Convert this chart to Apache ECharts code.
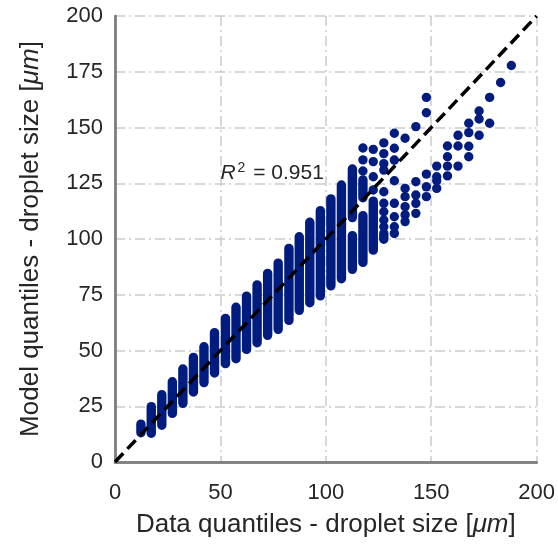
<!DOCTYPE html>
<html>
<head>
<meta charset="utf-8">
<script src="https://cdn.jsdelivr.net/npm/echarts@6/dist/echarts.min.js"></script>
<style>
  html, body { margin: 0; padding: 0; background: #ffffff; }
  #chart { width: 558px; height: 546px; }
</style>
</head>
<body>
<div id="chart"></div>
<script>
// Data quantile (x) of each column of points
const colX = [12.3, 17.2, 22.2, 27.2, 32.2, 37.2, 42.2, 47.2, 52.4, 57.4, 62.4, 67.4,
              72.4, 77.4, 82.5, 87.4, 92.4, 97.4, 102.4, 107.4, 112.6, 117.6, 122.5, 127.5,
              132.5, 137.6, 142.7, 147.7, 152.6, 157.7, 162.7, 167.8, 172.7, 177.7, 182.9, 188.0];

// Model quantiles in each column: a number is a single point,
// a [low, high] pair is a run of points packed so tightly they touch.
const colModel = [
  [[13.1, 17.0]],
  [[12.9, 24.8]],
  [[16.5, 30.2]],
  [[21.8, 36.0]],
  [[26.3, 41.7]],
  [[31.4, 46.9]],
  [[35.6, 51.7]],
  [[39.9, 58.0]],
  [[44.1, 64.4]],
  [[46.3, 69.4]],
  [[50.5, 74.4]],
  [[53.5, 79.4]],
  [[56.8, 84.6]],
  [[59.5, 89.2]],
  [[63.5, 95.8]],
  [[68.0, 101.0]],
  [[71.4, 107.5]],
  [[74.5, 112.7]],
  [[79.0, 118.0]],
  [[82.2, 124.2]],
  [[86.4, 101.5], [109.6, 131.4]],
  [[89.5, 110.5], [118.5, 126.5], 130.5, 135.5, 140.8],
  [[95.0, 117.0], 122.0, 127.9, 134.7, 140.2],
  [[99.9, 102.5], 105.5, 108.5, 112.2, 116.0, 121.2, 130.9, 133.8, 138.3, 143.1],
  [102.5, 105.5, 110.0, 116.0, 126.1, 135.4, 140.7, 147.4],
  [107.8, 110.8, 114.5, 119.0, 122.7, 145.2],
  [111.5, 116.0, 119.7, 125.7, 150.4],
  [119.0, 123.4, 129.1, 156.6, 163.5],
  [122.7, 126.1, 127.9, 132.7],
  [128.3, 132.7, 136.9, 141.7],
  [132.7, 141.7, 146.5],
  [136.9, 141.6, 147.7, 151.9],
  [146.5, 153.8, 157.4],
  [151.9, 163.5],
  [170.2],
  [177.8]
];

// Reference 1:1 line
const identityLine = [[0, 0], [200, 200]];

const xTicks = { min: 0, max: 200, interval: 50 };
const yTicks = { min: 0, max: 200, interval: 25 };

const r2Text = { x: 50, y: 130, value: '0.951' };

const pointColor = '#001c7f';
const textColor = '#262626';
const frameColor = '#808080';
const fontFamily = '"Liberation Sans", Arial, sans-serif';

const segments = [];
colX.forEach(function (x, i) {
  colModel[i].forEach(function (e) {
    const lo = Array.isArray(e) ? e[0] : e;
    const hi = Array.isArray(e) ? e[1] : e;
    segments.push([x, lo, hi]);
  });
});

const gridLine = {
  show: true,
  lineStyle: { color: '#cccccc', width: 1.5, type: [10, 4, 2, 4] }
};
const frameLine = { show: true, lineStyle: { color: frameColor, width: 2.5 } };

function axisName(text) {
  return {
    name: text,
    nameLocation: 'middle',
    nameTextStyle: {
      color: textColor, fontFamily: fontFamily, fontSize: 26,
      rich: { i: { fontStyle: 'italic', color: textColor, fontFamily: fontFamily, fontSize: 26 } }
    }
  };
}

const chart = echarts.init(document.getElementById('chart'), null, { renderer: 'canvas' });

chart.setOption({
  animation: false,
  backgroundColor: '#ffffff',
  grid: { left: 115, right: 21, top: 16, bottom: 84 },
  xAxis: [
    Object.assign({
      type: 'value', position: 'bottom',
      min: xTicks.min, max: xTicks.max, interval: xTicks.interval,
      axisLine: frameLine,
      axisTick: { show: false },
      axisLabel: { color: textColor, fontFamily: fontFamily, fontSize: 22, margin: 20 },
      splitLine: gridLine,
      nameGap: 50
    }, axisName('Data quantiles - droplet size [{i|μm}]')),
    {
      type: 'value', position: 'top',
      min: xTicks.min, max: xTicks.max, interval: xTicks.interval,
      axisLine: frameLine, axisTick: { show: false }, axisLabel: { show: false }, splitLine: { show: false }
    }
  ],
  yAxis: [
    Object.assign({
      type: 'value', position: 'left',
      min: yTicks.min, max: yTicks.max, interval: yTicks.interval,
      axisLine: frameLine,
      axisTick: { show: false },
      axisLabel: { color: textColor, fontFamily: fontFamily, fontSize: 22, margin: 12 },
      splitLine: gridLine,
      nameGap: 71
    }, axisName('Model quantiles - droplet size [{i|μm}]')),
    {
      type: 'value', position: 'right',
      min: yTicks.min, max: yTicks.max, interval: yTicks.interval,
      axisLine: frameLine, axisTick: { show: false }, axisLabel: { show: false }, splitLine: { show: false }
    }
  ],
  series: [
    {
      type: 'custom',
      name: 'quantiles',
      data: segments,
      encode: { x: 0, y: [1, 2] },
      z: 2,
      renderItem: function (params, api) {
        const x = api.value(0), lo = api.value(1), hi = api.value(2);
        const top = api.coord([x, hi]);
        const bot = api.coord([x, lo]);
        const r = 4.7;
        return {
          type: 'rect',
          shape: { x: top[0] - r, y: top[1] - r, width: 2 * r, height: bot[1] - top[1] + 2 * r, r: r },
          style: { fill: pointColor }
        };
      }
    },
    {
      type: 'line',
      name: 'identity',
      data: identityLine,
      symbol: 'none',
      z: 5,
      lineStyle: { color: '#000000', width: 3.5, type: [12, 6] }
    },
    {
      type: 'custom',
      name: 'r2',
      data: [[r2Text.x, r2Text.y]],
      z: 6,
      renderItem: function (params, api) {
        const p = api.coord([api.value(0), api.value(1)]);
        return {
          type: 'text',
          x: p[0], y: p[1] + 1,
          style: {
            text: '{i|R}{s|2}{n| = ' + r2Text.value + '}',
            align: 'left', verticalAlign: 'middle',
            rich: {
              i: { fontStyle: 'italic', fontSize: 21, fontFamily: fontFamily, fill: textColor, color: textColor },
              s: { fontSize: 14, fontFamily: fontFamily, verticalAlign: 'top', padding: [0, 2, 10, 2], fill: textColor, color: textColor },
              n: { fontSize: 21, fontFamily: fontFamily, fill: textColor, color: textColor }
            }
          }
        };
      }
    }
  ]
});
</script>
</body>
</html>
